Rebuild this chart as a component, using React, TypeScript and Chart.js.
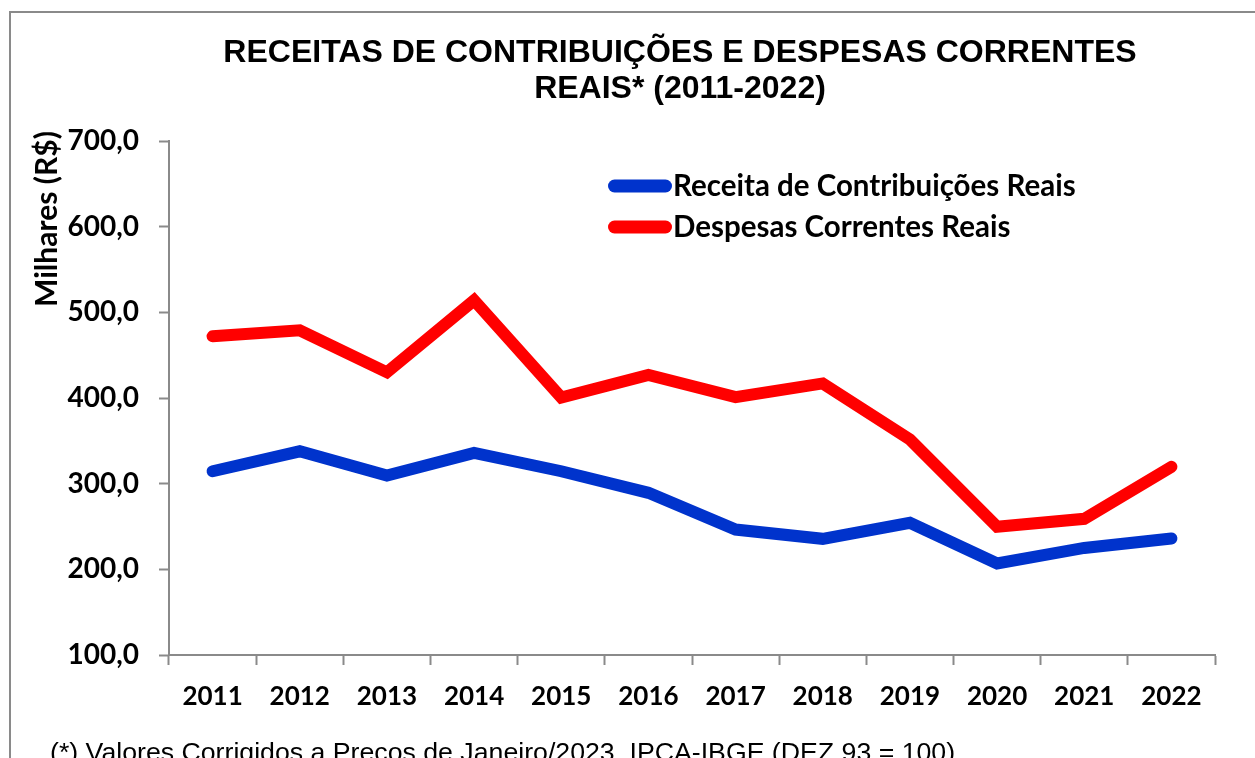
import React, { useEffect, useRef } from "react";
import { Chart, registerables } from "chart.js";

Chart.register(...registerables);

const years = ["2011", "2012", "2013", "2014", "2015", "2016", "2017", "2018", "2019", "2020", "2021", "2022"];
const receitaReais = [314.5, 337.8, 309.4, 336.0, 314.5, 289.3, 246.4, 235.6, 254.3, 206.8, 225.0, 236.0];
const despesasReais = [472.0, 479.0, 430.0, 514.0, 400.5, 427.0, 401.0, 417.0, 351.5, 249.6, 259.0, 319.6];
const seriesLabels = ["Receita de Contribuições Reais", "Despesas Correntes Reais"];
const titleLines = ["RECEITAS DE CONTRIBUIÇÕES E DESPESAS CORRENTES", "REAIS* (2011-2022)"];
const yAxisTitle = "Milhares (R$)";
const footnote = "(*) Valores Corrigidos a Preços de Janeiro/2023, IPCA-IBGE (DEZ 93 = 100)";
const yMin = 100;
const yMax = 700;
const yStep = 100;

const AXIS_GRAY = "#8a8a8a";
const LABEL_FONT = "Lato";
const CANVAS_W = 1400;
const CANVAS_H = 758;

const extrasPlugin = {
  id: "extras",
  afterDraw(chart: any) {
    const ctx = chart.ctx as CanvasRenderingContext2D;
    ctx.save();
    // legend
    chart.data.datasets.forEach((ds: any, i: number) => {
      const y = 186 + i * 41;
      ctx.strokeStyle = ds.borderColor;
      ctx.lineWidth = 13;
      ctx.lineCap = "round";
      ctx.beginPath();
      ctx.moveTo(614.5, y);
      ctx.lineTo(665.5, y);
      ctx.stroke();
      ctx.fillStyle = "#000";
      ctx.font = `bold 29.5px ${LABEL_FONT}`;
      ctx.textBaseline = "middle";
      ctx.textAlign = "left";
      ctx.fillText(ds.label, 673, y);
    });
    // y axis title
    ctx.save();
    ctx.translate(47, 219);
    ctx.rotate(-Math.PI / 2);
    ctx.font = `bold 30px ${LABEL_FONT}`;
    ctx.fillStyle = "#000";
    ctx.textAlign = "center";
    ctx.textBaseline = "middle";
    ctx.fillText(yAxisTitle, 0, 0);
    ctx.restore();
    // footnote
    ctx.font = "26.7px 'Liberation Sans'";
    ctx.fillStyle = "#000";
    ctx.textAlign = "left";
    ctx.textBaseline = "alphabetic";
    ctx.fillText(footnote, 50, 761);
    ctx.restore();
  },
};

export default function App() {
  const canvasRef = useRef<HTMLCanvasElement | null>(null);

  useEffect(() => {
    if (!canvasRef.current) return;
    const chart = new Chart(canvasRef.current, {
      type: "line",
      data: {
        labels: years,
        datasets: [
          {
            label: seriesLabels[0],
            data: receitaReais,
            borderColor: "#0033CC",
            backgroundColor: "#0033CC",
            borderWidth: 12,
            pointRadius: 0,
            tension: 0,
            borderCapStyle: "round",
            borderJoinStyle: "miter",
          },
          {
            label: seriesLabels[1],
            data: despesasReais,
            borderColor: "#FF0000",
            backgroundColor: "#FF0000",
            borderWidth: 12,
            pointRadius: 0,
            tension: 0,
            borderCapStyle: "round",
            borderJoinStyle: "miter",
          },
        ],
      },
      options: {
        responsive: false,
        devicePixelRatio: 1,
        animation: false,
        layout: { padding: { left: 0, right: 40, top: 0, bottom: 0 } },
        plugins: {
          legend: { display: false },
          tooltip: { enabled: false },
          title: {
            display: true,
            text: titleLines,
            color: "#000",
            font: { family: "'Liberation Sans', Arial", size: 32, weight: "bold", lineHeight: 36 / 32 },
            padding: { top: 35, bottom: 34 },
          },
        },
        scales: {
          x: {
            offset: true,
            grid: {
              offset: true,
              drawOnChartArea: false,
              drawTicks: true,
              tickLength: 10,
              tickWidth: 2,
              tickColor: AXIS_GRAY,
            },
            border: { display: true, color: AXIS_GRAY, width: 2 },
            ticks: {
              color: "#000",
              font: { family: LABEL_FONT, size: 26, weight: "bold" },
              padding: 16,
              maxRotation: 0,
              autoSkip: false,
            },
            afterFit: (scale: any) => {
              scale.height = 103;
            },
          },
          y: {
            min: yMin,
            max: yMax,
            grid: {
              drawOnChartArea: false,
              drawTicks: true,
              tickLength: 10,
              tickWidth: 2,
              tickColor: AXIS_GRAY,
            },
            border: { display: true, color: AXIS_GRAY, width: 2 },
            ticks: {
              stepSize: yStep,
              color: "#000",
              font: { family: LABEL_FONT, size: 28, weight: "bold" },
              padding: 20,
              callback: (v: any) => Number(v).toFixed(1).replace(".", ","),
            },
            afterFit: (scale: any) => {
              scale.width = 169;
            },
          },
          spacer: {
            type: "linear",
            position: "right",
            display: true,
            grid: { display: false, drawTicks: false },
            border: { display: false },
            ticks: { display: false },
            afterFit: (scale: any) => {
              scale.width = CANVAS_W - 40 - 1215;
            },
          },
        },
      },
      plugins: [extrasPlugin],
    });
    return () => chart.destroy();
  }, []);

  return (
    <div
      style={{
        position: "fixed",
        left: 0,
        top: 0,
        width: 1255,
        height: 758,
        overflow: "hidden",
        background: "#fff",
      }}
    >
      <div
        style={{
          position: "absolute",
          left: 9,
          top: 11,
          width: 1300,
          height: 800,
          border: `2px solid ${AXIS_GRAY}`,
          boxSizing: "border-box",
        }}
      />
      <canvas
        ref={canvasRef}
        width={CANVAS_W}
        height={CANVAS_H}
        style={{ position: "absolute", left: 0, top: 0, width: CANVAS_W, height: CANVAS_H }}
      />
    </div>
  );
}
